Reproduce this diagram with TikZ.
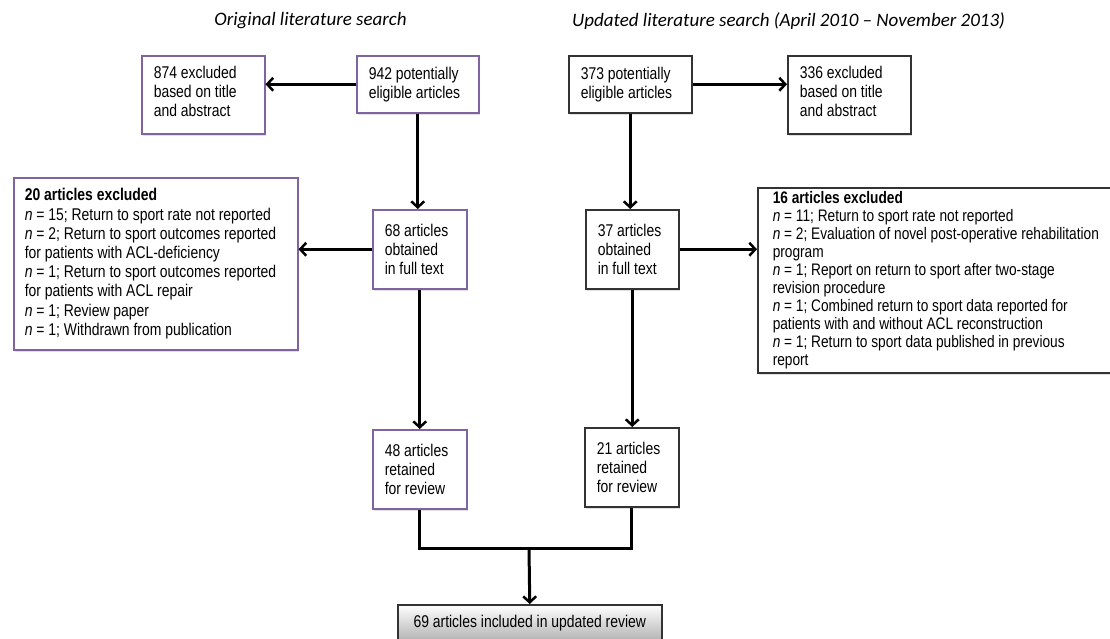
\documentclass[tikz,border=0pt]{standalone}
\usepackage{fontspec}
\setmainfont{Liberation Sans}[FakeStretch=0.82]
\newfontfamily\headfont{Carlito}
\usetikzlibrary{arrows.meta}
\usetikzlibrary{shadows}
\definecolor{boxpurple}{RGB}{128,100,162}

\tikzset{
	box/.style={draw=black!80, line width=1.5pt, fill=white, align=flush left, anchor=north west,
		inner xsep=12pt, inner ysep=0pt, font=\fontsize{17}{19.2}\selectfont,
		drop shadow={shadow xshift=1.5pt, shadow yshift=-2pt, opacity=0.25}},
	oldbox/.style={box, draw=boxpurple},
	arr/.style={-{Straight Barb[length=6pt,width=13pt,line width=2.5pt]}, line width=3pt},
	head/.style={font=\headfont\itshape\fontsize{19}{22}\selectfont}
}

\begin{document}
\begin{tikzpicture}[x=1pt, y=-1pt]
		\useasboundingbox (0,0) rectangle (1110,638);
		\node[head] (orig) at (310.5,21) {Original literature search};
		\node[head] (upd) at (788.5,21) {Updated literature search (April 2010 – November 2013)};
		
		\node[oldbox, text width=99pt, minimum width=123pt, minimum height=78pt] (ex874) at (141,55) {874 excluded\\based on title\\and abstract\\[-12pt]\mbox{}};
		\node[oldbox, text width=98pt, minimum width=122pt, minimum height=57pt] (pot942) at (356,55) {942 potentially\\eligible articles};
		\node[box, text width=99pt, minimum width=123pt, minimum height=57pt] (pot373) at (568,55) {373 potentially\\eligible articles};
		\node[box, text width=99pt, minimum width=123pt, minimum height=78pt] (ex336) at (787,55) {336 excluded\\based on title\\and abstract\\[-12pt]\mbox{}};
		
		\node[oldbox, inner xsep=11pt, text width=262pt, minimum width=284pt, minimum height=172pt] (ex20) at (13,177) {\textbf{20 articles excluded}\\\textit{n} = 15; Return to sport rate not reported\\\textit{n} = 2; Return to sport outcomes reported\\for patients with ACL-deficiency\\\textit{n} = 1; Return to sport outcomes reported\\for patients with ACL repair\\\textit{n} = 1; Review paper\\\textit{n} = 1; Withdrawn from publication};
		\node[oldbox, text width=70pt, minimum width=94pt, minimum height=79pt] (full68) at (372,209) {68 articles\\obtained\\in full text};
		\node[box, text width=69pt, minimum width=93pt, minimum height=79pt] (full37) at (585,209) {37 articles\\obtained\\in full text};
		\node[box, inner xsep=15pt, text width=345pt, minimum width=375pt, minimum height=185pt, font=\fontsize{16.7}{18}\selectfont] (ex16) at (757,187) {\textbf{16 articles excluded}\\\textit{n} = 11; Return to sport rate not reported\\\textit{n} = 2; Evaluation of novel post-operative rehabilitation\\program\\\textit{n} = 1; Report on return to sport after two-stage\\revision procedure\\\textit{n} = 1; Combined return to sport data reported for\\patients with and without ACL reconstruction\\\textit{n} = 1; Return to sport data published in previous\\report};
		
		\node[oldbox, text width=70pt, minimum width=94pt, minimum height=79pt] (ret48) at (372,429) {48 articles\\retained\\for review};
		\node[box, text width=70pt, minimum width=94pt, minimum height=79pt] (ret21) at (584,427) {21 articles\\retained\\for review};
		\node[box, align=center, minimum width=264pt, minimum height=36pt, top color=white, bottom color=black!30] (inc69) at (397,604) {69 articles included in updated review};
		
		\draw[arr] (pot942.west) -- (pot942.west -| ex874.east);
		\draw[arr] (pot373.east) -- (pot373.east -| ex336.west);
		\draw[arr] (pot942.south) -- (pot942.south |- full68.north);
		\draw[arr] (pot373.south) -- (pot373.south |- full37.north);
		\draw[arr] (full68.west) -- (full68.west -| ex20.east);
		\draw[arr] (full37.east) -- (full37.east -| ex16.west);
		\draw[arr] (full68.south) -- (ret48.north);
		\draw[arr] (full37.south) -- (full37.south |- ret21.north);
		
		\coordinate (join) at (529,548);
		\draw[line width=3pt] (ret48.south) |- (join) -| (ret21.south);
		\draw[arr] (join) -- (inc69.north);
		
		\end{tikzpicture}
\end{document}
